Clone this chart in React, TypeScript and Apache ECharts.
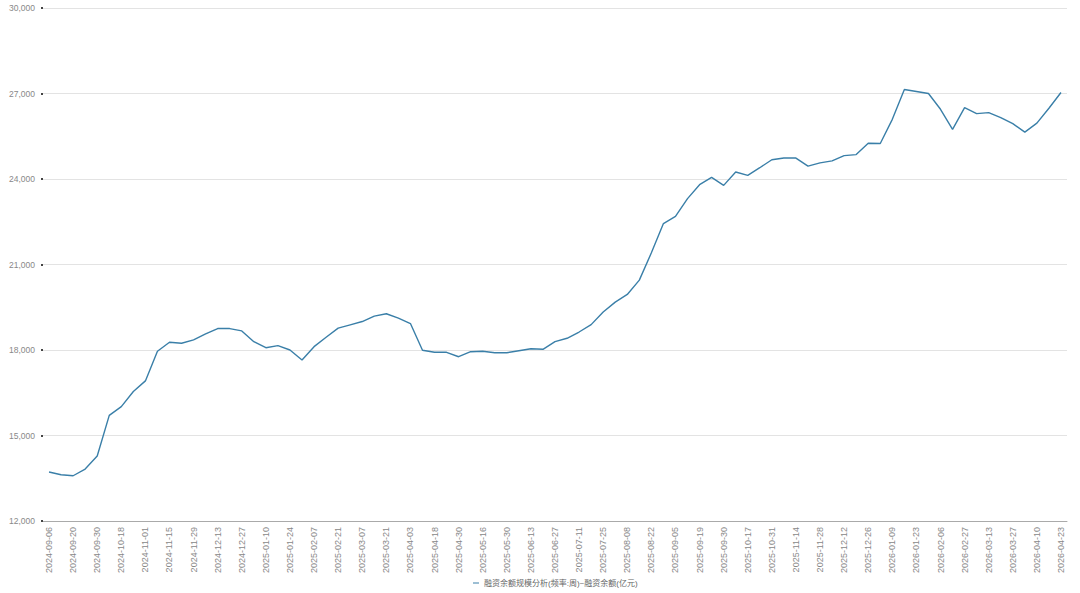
import React, { useEffect, useRef } from "react";
import * as echarts from "echarts";

const dates: string[] = [
  "2024-09-06", "2024-09-13", "2024-09-20", "2024-09-27", "2024-09-30", "2024-10-11", "2024-10-18", "2024-10-25",
  "2024-11-01", "2024-11-08", "2024-11-15", "2024-11-22", "2024-11-29", "2024-12-06", "2024-12-13", "2024-12-20",
  "2024-12-27", "2025-01-03", "2025-01-10", "2025-01-17", "2025-01-24", "2025-01-27", "2025-02-07", "2025-02-14",
  "2025-02-21", "2025-02-28", "2025-03-07", "2025-03-14", "2025-03-21", "2025-03-28", "2025-04-03", "2025-04-11",
  "2025-04-18", "2025-04-25", "2025-04-30", "2025-05-09", "2025-05-16", "2025-05-23", "2025-05-30", "2025-06-06",
  "2025-06-13", "2025-06-20", "2025-06-27", "2025-07-04", "2025-07-11", "2025-07-18", "2025-07-25", "2025-08-01",
  "2025-08-08", "2025-08-15", "2025-08-22", "2025-08-29", "2025-09-05", "2025-09-12", "2025-09-19", "2025-09-26",
  "2025-09-30", "2025-10-10", "2025-10-17", "2025-10-24", "2025-10-31", "2025-11-07", "2025-11-14", "2025-11-21",
  "2025-11-28", "2025-12-05", "2025-12-12", "2025-12-19", "2025-12-26", "2025-12-31", "2026-01-09", "2026-01-16",
  "2026-01-23", "2026-01-30", "2026-02-06", "2026-02-13", "2026-02-27", "2026-03-06", "2026-03-13", "2026-03-20",
  "2026-03-27", "2026-04-03", "2026-04-10", "2026-04-17", "2026-04-23",
];

const marginBalance: number[] = [
  13718, 13623, 13588, 13824, 14283, 15706, 16013, 16542, 16916, 17954,
  18272, 18236, 18353, 18565, 18752, 18752, 18670, 18293, 18081, 18152,
  18000, 17647, 18117, 18448, 18766, 18883, 18999, 19190, 19271, 19119,
  18928, 17989, 17919, 17919, 17764, 17940, 17954, 17905, 17905, 17975,
  18046, 18025, 18295, 18411, 18631, 18890, 19331, 19681, 19950, 20451,
  21410, 22436, 22691, 23310, 23800, 24056, 23776, 24245, 24126, 24396,
  24676, 24735, 24735, 24450, 24564, 24635, 24822, 24857, 25256, 25245,
  26093, 27141, 27071, 27000, 26446, 25740, 26506, 26294, 26329, 26153,
  25941, 25645, 25962, 26481, 27035,
];

const seriesName = "融资余额规模分析(频率:周)~融资余额(亿元)";

export default function App() {
  const ref = useRef<HTMLDivElement>(null);
  useEffect(() => {
    if (!ref.current) return;
    const chart = echarts.init(ref.current, undefined, { renderer: "svg" });
    chart.setOption({
      animation: false,
      textStyle: { fontFamily: "Arial, 'Liberation Sans', 'Noto Sans CJK SC', sans-serif" },
      grid: { left: 43, right: 13, top: 8, bottom: 72, containLabel: false },
      legend: {
        bottom: 1,
        left: 468,
        icon: "rect",
        itemWidth: 6,
        itemHeight: 1,
        itemGap: 10,
        textStyle: { fontSize: 8, color: "#666" },
        data: [seriesName],
      },
      xAxis: {
        type: "category",
        data: dates,
        boundaryGap: true,
        axisLine: { lineStyle: { color: "#aaa" } },
        axisTick: { interval: 0, lineStyle: { color: "#aaa" }, length: 4 },
        axisLabel: { rotate: 90, interval: 1, fontSize: 9, color: "#888", margin: 6 },
      },
      yAxis: {
        type: "value",
        min: 12000,
        max: 30000,
        interval: 3000,
        axisLine: { show: false },
        axisTick: { show: true, length: 2, lineStyle: { color: "#444", width: 2 } },
        axisLabel: {
          fontSize: 8.5,
          color: "#888",
          margin: 8,
          formatter: (v: number) => v.toLocaleString("en-US"),
        },
        splitLine: { lineStyle: { color: "#e3e3e3" } },
      },
      series: [
        {
          name: seriesName,
          type: "line",
          data: marginBalance,
          showSymbol: false,
          symbol: "none",
          lineStyle: { color: "#3a7fa8", width: 1.4 },
          itemStyle: { color: "#3a7fa8" },
        },
      ],
    });
    return () => chart.dispose();
  }, []);
  return <div ref={ref} style={{ width: 1080, height: 593, position: "absolute", left: 0, top: 0 }} />;
}
